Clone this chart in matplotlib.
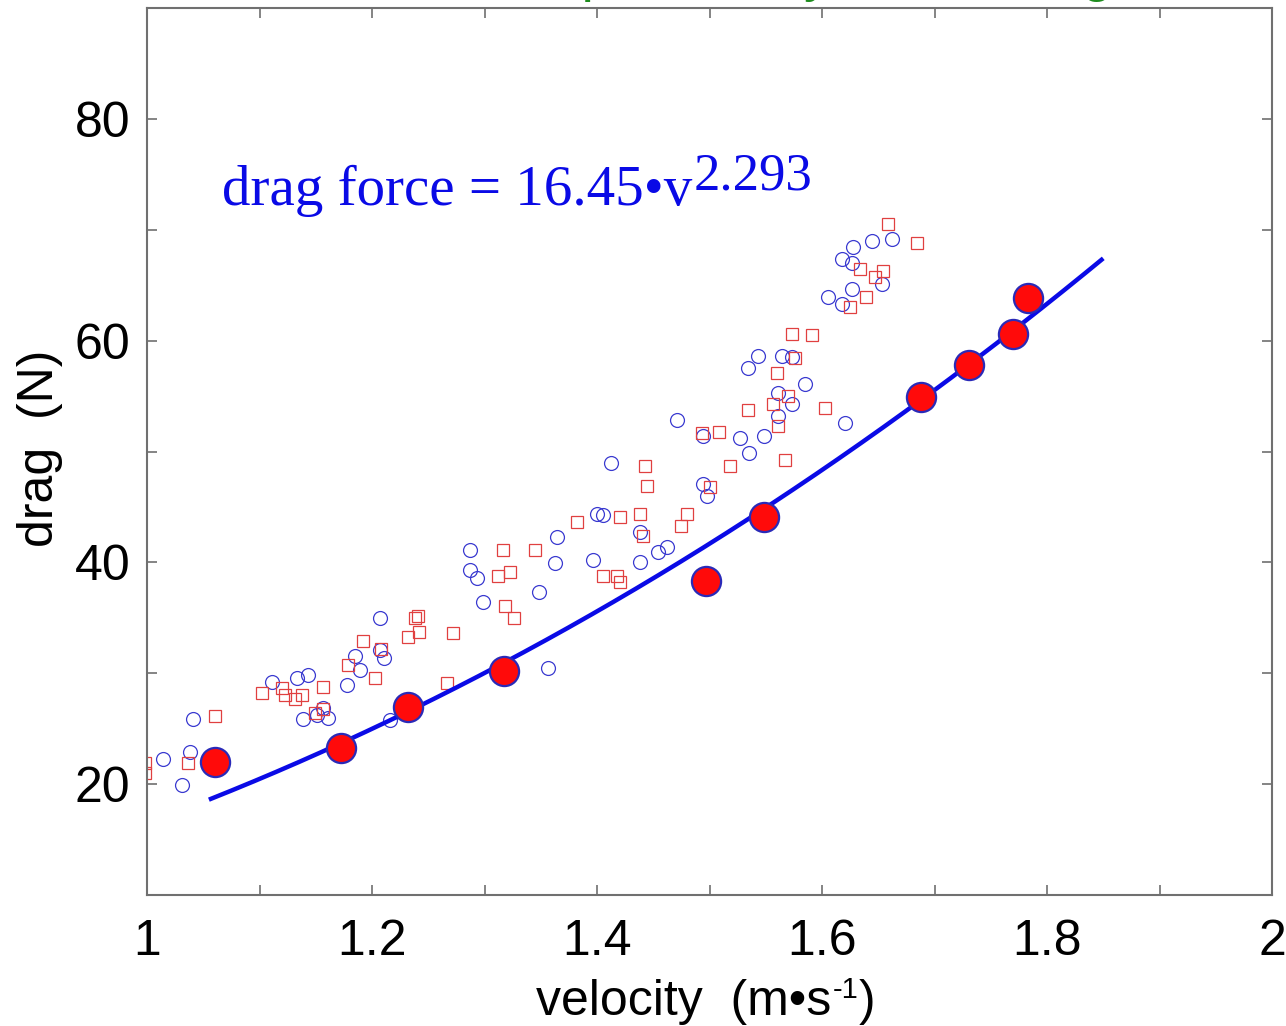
import numpy as np
import matplotlib
matplotlib.use("Agg")
import matplotlib.pyplot as plt
from matplotlib.ticker import MultipleLocator, FixedLocator
from matplotlib.transforms import IdentityTransform

plt.rcParams["font.family"] = ["Liberation Sans", "DejaVu Sans"]

# ---- data -------------------------------------------------------------
# trials shown as open circles
circ_v = [1.014, 1.038, 1.031, 1.041, 1.111, 1.133, 1.143, 1.139, 1.156, 1.151,
          1.161, 1.178, 1.185, 1.189, 1.207, 1.211, 1.207, 1.216, 1.287, 1.287,
          1.293, 1.299, 1.348, 1.356, 1.364, 1.363, 1.396, 1.400, 1.405, 1.412,
          1.438, 1.438, 1.454, 1.462, 1.471, 1.494, 1.498, 1.494, 1.527, 1.535,
          1.548, 1.543, 1.534, 1.564, 1.573, 1.585, 1.561, 1.573, 1.561, 1.620,
          1.644, 1.662, 1.628, 1.618, 1.627, 1.653, 1.627, 1.605, 1.618]
circ_f = [22.3, 22.9, 19.9, 25.9, 29.2, 29.6, 29.8, 25.9, 26.9, 26.2,
          26.0, 28.9, 31.6, 30.3, 32.1, 31.4, 35.0, 25.8, 41.1, 39.3,
          38.6, 36.4, 37.3, 30.5, 42.3, 39.9, 40.2, 44.4, 44.3, 49.0,
          40.0, 42.7, 40.9, 41.4, 52.8, 47.1, 46.0, 51.4, 51.2, 49.9,
          51.4, 58.6, 57.5, 58.6, 58.5, 56.1, 55.3, 54.3, 53.2, 52.6,
          69.0, 69.2, 68.4, 67.4, 67.0, 65.1, 64.7, 63.9, 63.3]

# trials shown as open squares
sq_v = [0.998, 0.998, 1.036, 1.060, 1.102, 1.120, 1.123, 1.132, 1.138, 1.156,
        1.149, 1.156, 1.179, 1.192, 1.203, 1.208, 1.238, 1.241, 1.232, 1.242,
        1.272, 1.267, 1.316, 1.345, 1.312, 1.323, 1.318, 1.326, 1.382, 1.405,
        1.418, 1.420, 1.420, 1.438, 1.441, 1.443, 1.444, 1.480, 1.475, 1.493,
        1.508, 1.500, 1.518, 1.567, 1.534, 1.556, 1.570, 1.561, 1.560, 1.576,
        1.573, 1.591, 1.603, 1.659, 1.684, 1.634, 1.647, 1.654, 1.639, 1.625]
sq_f = [21.9, 21.0, 21.9, 26.1, 28.2, 28.7, 28.0, 27.7, 28.0, 28.8,
        26.4, 26.8, 30.7, 32.9, 29.6, 32.2, 35.0, 35.2, 33.3, 33.7,
        33.6, 29.1, 41.1, 41.1, 38.8, 39.1, 36.1, 35.0, 43.6, 38.8,
        38.8, 38.2, 44.1, 44.4, 42.4, 48.7, 46.9, 44.4, 43.3, 51.7,
        51.8, 46.8, 48.7, 49.2, 53.7, 54.3, 55.0, 52.3, 57.1, 58.4,
        60.6, 60.5, 53.9, 70.5, 68.8, 66.5, 65.7, 66.3, 63.9, 63.0]

# points used for the power-law fit (filled)
fit_v = [1.060, 1.172, 1.232, 1.317, 1.497, 1.548, 1.688, 1.731, 1.770, 1.783]
fit_f = [22.0, 23.3, 27.0, 30.2, 38.3, 44.1, 54.9, 57.8, 60.6, 63.8]

# fitted curve: drag = a * v^b
fit_a = 16.45
fit_b = 2.293
curve_range = (1.055, 1.85)

x_ticks = [1, 1.2, 1.4, 1.6, 1.8, 2]
x_tick_labels = ["1", "1.2", "1.4", "1.6", "1.8", "2"]
y_ticks = [20, 40, 60, 80]
y_tick_labels = ["20", "40", "60", "80"]

# ---- figure -------------------------------------------------------------
W, H = 1286, 1026
fig = plt.figure(figsize=(W / 100, H / 100), dpi=100)
ax = fig.add_axes([147 / W, 1 - 895 / H, (1272 - 147) / W, (895 - 8) / H])

ax.set_xlim(1, 2)
ax.set_ylim(10, 90)

ax.plot(circ_v, circ_f, linestyle="none", marker="o", markersize=10,
        markerfacecolor="none", markeredgecolor="#3a3ad0", markeredgewidth=0.9,
        zorder=2)
ax.plot(sq_v, sq_f, linestyle="none", marker="s", markersize=9,
        markerfacecolor="none", markeredgecolor="#e04040", markeredgewidth=0.9,
        zorder=2)

vv = np.linspace(curve_range[0], curve_range[1], 200)
ax.plot(vv, fit_a * vv ** fit_b, color="#0a0ae6", linewidth=3.2,
        solid_capstyle="butt", zorder=3)

ax.plot(fit_v, fit_f, linestyle="none", marker="o", markersize=21,
        markerfacecolor="#ff0a0a", markeredgecolor="#2a2ab8",
        markeredgewidth=1.6, zorder=4)

# axes frame and ticks
spine_color = "#707070"
for s in ax.spines.values():
    s.set_color(spine_color)
    s.set_linewidth(1.5)

ax.xaxis.set_major_locator(FixedLocator(x_ticks))
ax.set_xticklabels(x_tick_labels)
ax.xaxis.set_minor_locator(MultipleLocator(0.1))
ax.yaxis.set_major_locator(FixedLocator(y_ticks))
ax.set_yticklabels(y_tick_labels)
ax.yaxis.set_minor_locator(MultipleLocator(10))

ax.tick_params(which="both", direction="in", top=True, right=True,
               length=7, width=1.2, color=spine_color)
ax.tick_params(which="major", labelsize=36)
ax.tick_params(axis="x", which="major", pad=17)
ax.tick_params(axis="y", which="major", pad=12)

# equation of the fit
serif = ["Liberation Serif", "DejaVu Serif"]
eq = ax.text((222 - 147) / 1125, (895 - 205) / 887,
             "drag force = 16.45\u2022v", transform=ax.transAxes,
             fontsize=41, color="#0a0ae6", family=serif,
             ha="left", va="baseline")
ax.annotate("2.293", xy=(1, 0), xycoords=eq, xytext=(1, 20),
            textcoords="offset points", fontsize=38, color="#0a0ae6",
            family=serif, ha="left", va="baseline")

# x axis label, built from pieces so the "-1" sits small and raised
renderer = fig.canvas.get_renderer()
base_y = H - 1015          # baseline, pixels from the bottom
xl = fig.text(536, base_y, "velocity  (m\u2022s", fontsize=36,
              ha="left", va="baseline", transform=IdentityTransform())
x_end = xl.get_window_extent(renderer).x1
sup = fig.text(x_end + 1, base_y + 17, "-1", fontsize=21,
               ha="left", va="baseline", transform=IdentityTransform())
x_end = sup.get_window_extent(renderer).x1
fig.text(x_end + 1, base_y, ")", fontsize=36,
         ha="left", va="baseline", transform=IdentityTransform())

# y axis label
fig.text(40 / W, 1 - 448 / H, "drag  (N)", fontsize=36, rotation=90,
         ha="center", va="center")

# heading above the plot
fig.text(134 / W, 1.010, "Resistance of a replica body in a towing tank",
         fontsize=40, color="#1e8c1e", ha="left", va="baseline")

fig.savefig("out.png", dpi=100)
